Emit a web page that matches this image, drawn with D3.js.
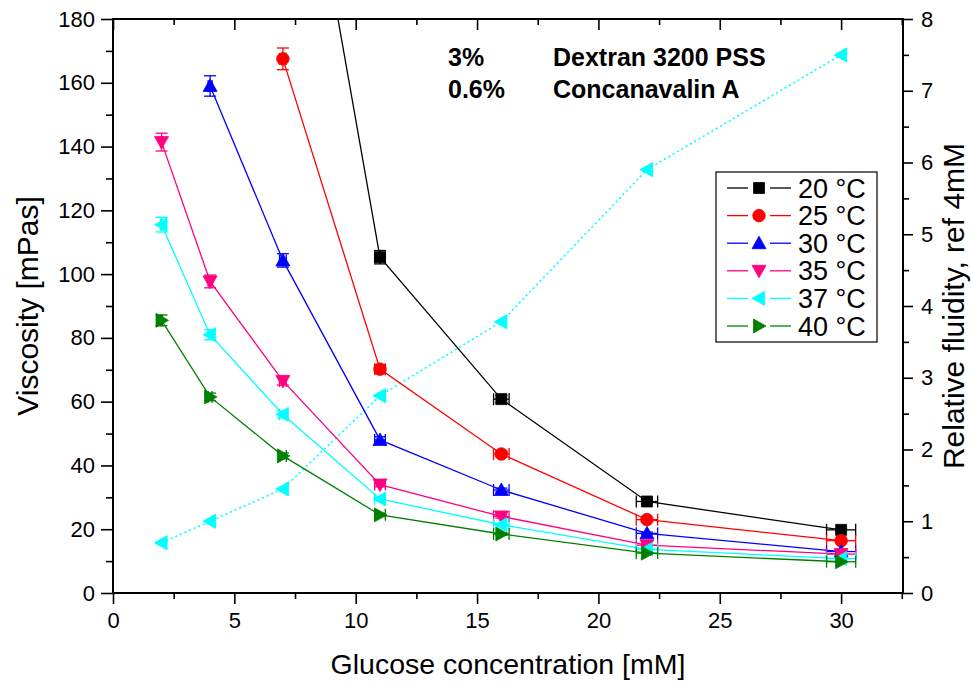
<!DOCTYPE html>
<html><head><meta charset="utf-8">
<script src="https://cdn.jsdelivr.net/npm/d3@7"></script>
<style>
body{margin:0;background:#fff}
svg{display:block}
text{font-family:Arial,"Liberation Sans",sans-serif;fill:#000}
</style></head>
<body><svg id="c" width="972" height="686"></svg>
<script>
// ---- data ----
const glucose    = [2, 4, 7, 11, 16, 22, 30];
const glucoseErr = [0.04, 0.08, 0.14, 0.22, 0.32, 0.44, 0.6];
const tempLabels = ["20 °C", "25 °C", "30 °C", "35 °C", "37 °C", "40 °C"];
const visc20 = [null, null, 278, 105.3, 60.8, 28.7, 19.8];
const visc25 = [null, null, 167.5, 70.2, 43.6, 23.0, 16.4];
const visc30 = [null, 159.0, 104.3, 48.0, 32.3, 18.7, 13.0];
const visc35 = [141.4, 97.7, 66.5, 34.0, 24.0, 15.0, 12.2];
const visc37 = [115.5, 81.0, 56.0, 29.5, 21.4, 13.7, 10.8];
const visc40 = [85.5, 61.5, 43.0, 24.5, 18.5, 12.5, 9.8];
const err20 = [null, null, 5.6, 2.1, 1.2, 0.6, 0.4];
const err25 = [null, null, 3.4, 1.4, 0.9, 0.5, 0.3];
const err30 = [null, 3.2, 2.1, 1.0, 0.6, 0.4, 0.3];
const err35 = [2.8, 2.0, 1.3, 0.7, 0.5, 0.3, 0.2];
const err37 = [2.3, 1.6, 1.1, 0.6, 0.4, 0.3, 0.2];
const err40 = [1.7, 1.2, 0.9, 0.5, 0.4, 0.3, 0.2];
const fluidity = [0.70, 1.00, 1.45, 2.75, 3.78, 5.90, 7.50];
const xTicks = [0, 5, 10, 15, 20, 25, 30];
const xMinorTicks = [2.5, 7.5, 12.5, 17.5, 22.5, 27.5, 32.5];
const yLeftTicks = [0, 20, 40, 60, 80, 100, 120, 140, 160, 180];
const yLeftMinor = [10, 30, 50, 70, 90, 110, 130, 150, 170];
const yRightTicks = [0, 1, 2, 3, 4, 5, 6, 7, 8];
const yRightMinor = [0.5, 1.5, 2.5, 3.5, 4.5, 5.5, 6.5, 7.5];
const noteLeft  = ["3%", "0.6%"];
const noteRight = ["Dextran 3200 PSS", "Concanavalin A"];
const xTitle = "Glucose concentration [mM]";
const yLeftTitle = "Viscosity [mPas]";
const yRightTitle = "Relative fluidity, ref 4mM";

// ---- styles ----
const seriesValues = [visc20, visc25, visc30, visc35, visc37, visc40];
const seriesErrs   = [err20, err25, err30, err35, err37, err40];
const colors = ["#000000", "#ff0000", "#0000ff", "#ff0080", "#00ffff", "#008000"];
const shapes = ["square", "circle", "up", "down", "left", "right"];

const L = 113, R = 903, T = 19, B = 593;
const svg = d3.select("#c");

const x  = d3.scaleLinear().domain([0, 32.55]).range([L, R]);
const yL = d3.scaleLinear().domain([0, 180]).range([B, T]);
const yR = d3.scaleLinear().domain([0, 8]).range([B, T]);

function shapePath(t) {
  switch (t) {
    case "square": return "M-5.5,-5.5H5.5V5.5H-5.5Z";
    case "circle": return "M-6.3,0a6.3,6.3 0 1,0 12.6,0a6.3,6.3 0 1,0 -12.6,0Z";
    case "up":    return "M0,-7L7,5.5L-7,5.5Z";
    case "down":  return "M0,7L7,-5.5L-7,-5.5Z";
    case "left":  return "M-7,0L5.5,-7L5.5,7Z";
    case "right": return "M7,0L-5.5,-7L-5.5,7Z";
  }
}

svg.append("defs").append("clipPath").attr("id", "plotclip")
  .append("rect").attr("x", L).attr("y", T).attr("width", R - L).attr("height", B - T);
const plot = svg.append("g").attr("clip-path", "url(#plotclip)");

// ---- axes ----
function styleAxis(g) {
  g.select(".domain").remove();
  g.selectAll("line").attr("stroke", "#000").attr("stroke-width", 1.6);
  g.selectAll("text").style("font-size", "22px").attr("fill", "#000");
}
svg.append("g").attr("transform", `translate(0,${B})`)
  .call(d3.axisBottom(x).tickValues(xTicks).tickSize(11).tickPadding(8).tickFormat(d3.format("d")))
  .call(styleAxis);
svg.append("g").attr("transform", `translate(0,${B})`)
  .call(d3.axisBottom(x).tickValues(xMinorTicks).tickSize(6).tickFormat(""))
  .call(styleAxis);
svg.append("g").attr("transform", `translate(0,${T})`)
  .call(d3.axisBottom(x).tickValues(xTicks).tickSize(11).tickFormat(""))
  .call(styleAxis);
svg.append("g").attr("transform", `translate(0,${T})`)
  .call(d3.axisBottom(x).tickValues(xMinorTicks).tickSize(6).tickFormat(""))
  .call(styleAxis);
svg.append("g").attr("transform", `translate(${L},0)`)
  .call(d3.axisLeft(yL).tickValues(yLeftTicks).tickSize(12).tickPadding(6).tickFormat(d3.format("d")))
  .call(styleAxis);
svg.append("g").attr("transform", `translate(${L},0)`)
  .call(d3.axisLeft(yL).tickValues(yLeftMinor).tickSize(7).tickFormat(""))
  .call(styleAxis);
svg.append("g").attr("transform", `translate(${R},0)`)
  .call(d3.axisRight(yR).tickValues(yRightTicks).tickSize(10).tickPadding(8).tickFormat(d3.format("d")))
  .call(styleAxis);
svg.append("g").attr("transform", `translate(${R},0)`)
  .call(d3.axisRight(yR).tickValues(yRightMinor).tickSize(6).tickFormat(""))
  .call(styleAxis);

svg.append("rect").attr("x", L).attr("y", T).attr("width", R - L).attr("height", B - T)
  .attr("fill", "none").attr("stroke", "#000").attr("stroke-width", 2);

// titles
svg.append("text").attr("x", (L + R) / 2).attr("y", 674).attr("text-anchor", "middle")
  .style("font-size", "28.5px").text(xTitle);
svg.append("text").attr("transform", `translate(38,${(T + B) / 2}) rotate(-90)`)
  .attr("text-anchor", "middle").style("font-size", "30px").text(yLeftTitle);
svg.append("text").attr("transform", `translate(964,${(T + B) / 2}) rotate(-90)`)
  .attr("text-anchor", "middle").style("font-size", "30px").text(yRightTitle);

// ---- fluidity series (right axis) ----
const fluidPts = glucose.map((g, i) => [g, fluidity[i]]);
plot.append("path").datum(fluidPts)
  .attr("d", d3.line().x(d => x(d[0])).y(d => yR(d[1])))
  .attr("fill", "none").attr("stroke", "#00ffff").attr("stroke-width", 1.6)
  .attr("stroke-dasharray", "2,3");
plot.selectAll(".fl").data(fluidPts).enter().append("path")
  .attr("transform", d => `translate(${x(d[0])},${yR(d[1])})`)
  .attr("d", shapePath("left")).attr("fill", "#00ffff").attr("stroke", "#00ffff");

// ---- viscosity series ----
seriesValues.forEach((vals, si) => {
  const col = colors[si];
  const pts = glucose.map((g, i) => ({ g, v: vals[i], e: seriesErrs[si][i], ge: glucoseErr[i] }))
    .filter(d => d.v != null);
  const gs = plot.append("g");
  gs.append("path").datum(pts)
    .attr("d", d3.line().x(d => x(d.g)).y(d => yL(d.v)))
    .attr("fill", "none").attr("stroke", col).attr("stroke-width", 1.3);
  const eb = gs.selectAll(".eb").data(pts).enter().append("g")
    .attr("stroke", col).attr("stroke-width", 1.3);
  eb.append("line").attr("x1", d => x(d.g)).attr("x2", d => x(d.g))
    .attr("y1", d => yL(d.v - d.e)).attr("y2", d => yL(d.v + d.e));
  eb.append("line").attr("x1", d => x(d.g) - 6).attr("x2", d => x(d.g) + 6)
    .attr("y1", d => yL(d.v + d.e)).attr("y2", d => yL(d.v + d.e));
  eb.append("line").attr("x1", d => x(d.g) - 6).attr("x2", d => x(d.g) + 6)
    .attr("y1", d => yL(d.v - d.e)).attr("y2", d => yL(d.v - d.e));
  eb.append("line").attr("x1", d => x(d.g - d.ge)).attr("x2", d => x(d.g + d.ge))
    .attr("y1", d => yL(d.v)).attr("y2", d => yL(d.v));
  eb.append("line").attr("x1", d => x(d.g - d.ge)).attr("x2", d => x(d.g - d.ge))
    .attr("y1", d => yL(d.v) - 6).attr("y2", d => yL(d.v) + 6);
  eb.append("line").attr("x1", d => x(d.g + d.ge)).attr("x2", d => x(d.g + d.ge))
    .attr("y1", d => yL(d.v) - 6).attr("y2", d => yL(d.v) + 6);
  gs.selectAll(".mk").data(pts).enter().append("path")
    .attr("transform", d => `translate(${x(d.g)},${yL(d.v)})`)
    .attr("d", shapePath(shapes[si])).attr("fill", col).attr("stroke", col).attr("stroke-width", 0.8);
});

// ---- annotations ----
noteLeft.forEach((t, i) => {
  svg.append("text").attr("x", 448).attr("y", 66 + i * 32)
    .style("font-size", "25px").style("font-weight", "bold").text(t);
  svg.append("text").attr("x", 553).attr("y", 66 + i * 32)
    .style("font-size", "25px").style("font-weight", "bold").text(noteRight[i]);
});

// ---- legend ----
const lgX = 716, lgY = 172, rowH = 27.6, firstRow = 16;
const lg = svg.append("g");
lg.append("rect").attr("x", lgX).attr("y", lgY).attr("width", 161).attr("height", firstRow + rowH * 5 + 16)
  .attr("fill", "#fff").attr("stroke", "#000").attr("stroke-width", 1.2);
tempLabels.forEach((lab, i) => {
  const cy = lgY + firstRow + i * rowH;
  const row = lg.append("g");
  row.append("line").attr("x1", 727).attr("x2", 748).attr("y1", cy).attr("y2", cy)
    .attr("stroke", colors[i]).attr("stroke-width", 1.3);
  row.append("line").attr("x1", 770).attr("x2", 791).attr("y1", cy).attr("y2", cy)
    .attr("stroke", colors[i]).attr("stroke-width", 1.3);
  row.append("path").attr("transform", `translate(759,${cy})`).attr("d", shapePath(shapes[i]))
    .attr("fill", colors[i]).attr("stroke", colors[i]).attr("stroke-width", 0.8);
  row.append("text").attr("x", 798).attr("y", cy + 9.5).style("font-size", "27px").text(lab);
});
</script></body></html>
